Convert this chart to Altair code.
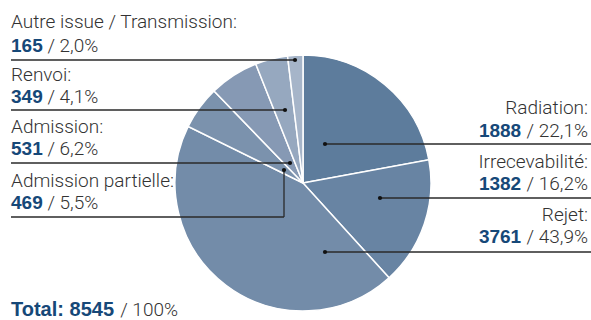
import altair as alt
import pandas as pd

# ---------------- data ----------------
categories = ["Radiation", "Irrecevabilité", "Rejet", "Admission partielle",
              "Admission", "Renvoi", "Autre issue / Transmission"]
counts = [1888, 1382, 3761, 469, 531, 349, 165]
percent_labels = ["22,1%", "16,2%", "43,9%", "5,5%", "6,2%", "4,1%", "2,0%"]
total_count = 8545
total_percent = "100%"

# ---------------- style / layout ----------------
colors = ["#5d7c9c", "#6884a3", "#738ca9", "#7b92ad", "#8699b4", "#96a8bf", "#a6b5c9"]
W, H = 591, 320
CX, CY, R = 303, 183, 128
FONT = "Roboto"
BOLD_FONT = "Liberation Sans"
FS = 19
TEXT_COLOR = "#333333"
NUM_COLOR = "#164878"
LINE_COLOR = "#2a2a2a"
LEFT_X, RIGHT_X = 11, 588

side = ["right", "right", "right", "left", "left", "left", "left"]
name_y = [114, 168, 221, 187, 133, 81, 28]
num_y = [137, 190, 243, 209, 155, 103, 52]
line_y = [144, 198, 252, 217, 163, 110, 60]
dot_x = [325, 380, 325, 284, 290, 285, 295]
dot_y = [144, 198, 252, 170, 163, 110, 60]

# approximate advance widths (em)
CW_LIGHT = {d: 0.5615 for d in "0123456789"}
CW_LIGHT.update({" ": 0.248, "/": 0.41, ",": 0.196, "%": 0.73})
CW_BOLD = {d: 0.556 for d in "0123456789"}
CW_BOLD.update({" ": 0.278, "T": 0.611, "o": 0.611, "t": 0.333, "a": 0.556,
                "l": 0.278, ":": 0.333})


def tw(s, bold=False, size=FS):
    table = CW_BOLD if bold else CW_LIGHT
    return sum(table.get(c, 0.55) for c in s) * size


# ---------------- pie ----------------
pie_df = pd.DataFrame({"category": categories, "count": counts,
                       "idx": list(range(len(categories)))})
pie = alt.Chart(pie_df).mark_arc(radius=R, stroke="white", strokeWidth=1.5).encode(
    theta=alt.Theta("count:Q", stack=True),
    order=alt.Order("idx:Q"),
    color=alt.Color("category:N", scale=alt.Scale(domain=categories, range=colors), legend=None),
    x=alt.value(CX), y=alt.value(CY),
)

# ---------------- leader lines ----------------
rules = []
for i in range(len(categories)):
    if side[i] == "right":
        rules.append(dict(x=dot_x[i], x2=W, y=line_y[i], y2=line_y[i]))
    else:
        rules.append(dict(x=LEFT_X, x2=dot_x[i], y=line_y[i], y2=line_y[i]))
        if dot_y[i] != line_y[i]:
            rules.append(dict(x=dot_x[i], x2=dot_x[i], y=line_y[i], y2=dot_y[i]))
rule_df = pd.DataFrame(rules)
leader = alt.Chart(rule_df).mark_rule(color=LINE_COLOR, strokeWidth=1.3).encode(
    x=alt.X("x:Q", scale=None), x2="x2:Q",
    y=alt.Y("y:Q", scale=None), y2="y2:Q",
)
dot_df = pd.DataFrame({"x": dot_x, "y": dot_y})
dots = alt.Chart(dot_df).mark_circle(size=18, color="#111111", opacity=1).encode(
    x=alt.X("x:Q", scale=None), y=alt.Y("y:Q", scale=None),
)

# ---------------- texts ----------------
names_l, names_r, nums_l, nums_r, rest_l, rest_r = [], [], [], [], [], []
for i, c in enumerate(categories):
    num = str(counts[i])
    rest = "/ " + percent_labels[i]
    if side[i] == "left":
        names_l.append(dict(x=LEFT_X, y=name_y[i], t=c + ":"))
        nums_l.append(dict(x=LEFT_X, y=num_y[i], t=num))
        rest_l.append(dict(x=LEFT_X + tw(num, True) + tw(" "), y=num_y[i], t=rest))
    else:
        names_r.append(dict(x=RIGHT_X, y=name_y[i], t=c + ":"))
        rest_r.append(dict(x=RIGHT_X, y=num_y[i], t=rest))
        nums_r.append(dict(x=RIGHT_X - tw(rest) - tw(" "), y=num_y[i], t=num))

TOTAL_FS = 20
TOTAL_Y = 316
total_num = "Total: " + str(total_count)
tot_num = [dict(x=LEFT_X, y=TOTAL_Y, t=total_num)]
tot_rest = [dict(x=LEFT_X + tw(total_num, True, TOTAL_FS) + tw(" "), y=TOTAL_Y, t="/ " + total_percent)]


def text_layer(rows, align, bold, size=FS):
    df = pd.DataFrame(rows)
    mk = alt.Chart(df).mark_text(
        align=align, baseline="alphabetic",
        font=(BOLD_FONT if bold else FONT), fontSize=size,
        fontWeight=("bold" if bold else 300),
        color=(NUM_COLOR if bold else TEXT_COLOR),
    )
    return mk.encode(x=alt.X("x:Q", scale=None), y=alt.Y("y:Q", scale=None), text="t:N")


layers = [pie, leader, dots,
          text_layer(names_l, "left", False), text_layer(names_r, "right", False),
          text_layer(nums_l, "left", True), text_layer(nums_r, "right", True),
          text_layer(rest_l, "left", False), text_layer(rest_r, "right", False),
          text_layer(tot_num, "left", True, TOTAL_FS),
          text_layer(tot_rest, "left", False)]

chart = alt.layer(*layers).properties(
    width=W, height=H, padding=0, autosize="none", background="white"
).configure_view(stroke=None)

chart.save("out.html", embed_options={"renderer": "svg", "actions": False})
